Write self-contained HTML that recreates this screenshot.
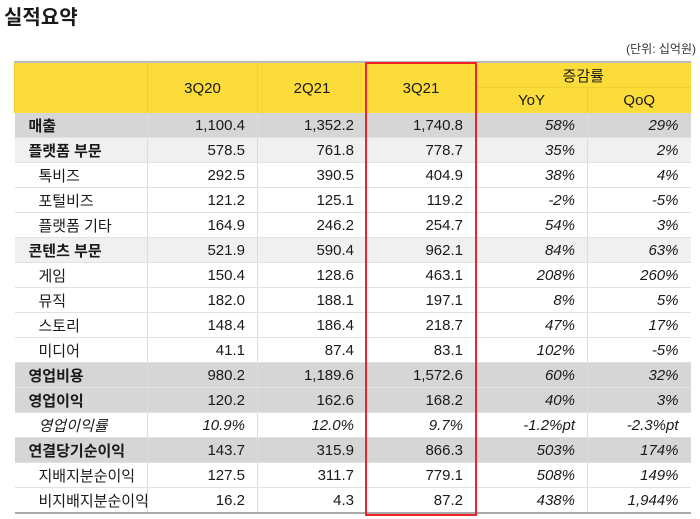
<!DOCTYPE html><html><head><meta charset="utf-8"><style>
body{margin:0;width:700px;height:519px;background:#fff;position:relative;font-family:"Liberation Sans","Noto Sans CJK KR",sans-serif;color:#1a1a1a;overflow:hidden}
.t{position:absolute;left:4px;top:1px;font-size:20px;font-weight:bold}
.u{position:absolute;right:4px;top:40px;font-size:12px;color:#333}
table{position:absolute;left:14px;top:61px;border-collapse:collapse;font-size:15px;table-layout:fixed;width:676px;border-top:2px solid #bbb;border-bottom:2px solid #aaa}
td{height:24px;padding:0;border-bottom:1px solid #e2e2e2;border-left:1px solid #ddd;text-align:right;padding-right:12px;white-space:nowrap}
td:first-child{border-left:none;text-align:left;padding-left:14px}
.h td{background:#fcdc3a;text-align:center;padding:0;border-bottom:none;border-left:1px solid #f3cf2a;font-size:15px}
.h2 td{border-top:1px solid #f0cf30}
.g td{background:#d6d6d6;font-weight:bold}
.l td{background:#f0f0f0;font-weight:bold}
.g td:not(:first-child),.l td:not(:first-child){font-weight:normal}
.s td:first-child{padding-left:24px}
.p td:nth-child(n+5){font-style:italic}
.box{position:absolute;left:365px;top:62px;width:108px;height:450px;border:2px solid #f0232d}
</style></head><body>
<div class="t">실적요약</div><div class="u">(단위: 십억원)</div>
<table>
<colgroup><col style="width:133px"><col style="width:110px"><col style="width:109px"><col style="width:109px"><col style="width:112px"><col style="width:103px"></colgroup>
<tr class="h"><td rowspan="2" style="height:50px"></td><td rowspan="2">3Q20</td><td rowspan="2">2Q21</td><td rowspan="2">3Q21</td><td colspan="2" style="height:24px">증감률</td></tr>
<tr class="h h2"><td style="height:25px">YoY</td><td>QoQ</td></tr>
<tr class="g p"><td>매출</td><td>1,100.4</td><td>1,352.2</td><td>1,740.8</td><td>58%</td><td>29%</td></tr>
<tr class="l p"><td>플랫폼 부문</td><td>578.5</td><td>761.8</td><td>778.7</td><td>35%</td><td>2%</td></tr>
<tr class="s p"><td>톡비즈</td><td>292.5</td><td>390.5</td><td>404.9</td><td>38%</td><td>4%</td></tr>
<tr class="s p"><td>포털비즈</td><td>121.2</td><td>125.1</td><td>119.2</td><td>-2%</td><td>-5%</td></tr>
<tr class="s p"><td>플랫폼 기타</td><td>164.9</td><td>246.2</td><td>254.7</td><td>54%</td><td>3%</td></tr>
<tr class="l p"><td>콘텐츠 부문</td><td>521.9</td><td>590.4</td><td>962.1</td><td>84%</td><td>63%</td></tr>
<tr class="s p"><td>게임</td><td>150.4</td><td>128.6</td><td>463.1</td><td>208%</td><td>260%</td></tr>
<tr class="s p"><td>뮤직</td><td>182.0</td><td>188.1</td><td>197.1</td><td>8%</td><td>5%</td></tr>
<tr class="s p"><td>스토리</td><td>148.4</td><td>186.4</td><td>218.7</td><td>47%</td><td>17%</td></tr>
<tr class="s p"><td>미디어</td><td>41.1</td><td>87.4</td><td>83.1</td><td>102%</td><td>-5%</td></tr>
<tr class="g p"><td>영업비용</td><td>980.2</td><td>1,189.6</td><td>1,572.6</td><td>60%</td><td>32%</td></tr>
<tr class="g p"><td>영업이익</td><td>120.2</td><td>162.6</td><td>168.2</td><td>40%</td><td>3%</td></tr>
<tr class="s" style="font-style:italic"><td>영업이익률</td><td>10.9%</td><td>12.0%</td><td>9.7%</td><td>-1.2%pt</td><td>-2.3%pt</td></tr>
<tr class="g p"><td>연결당기순이익</td><td>143.7</td><td>315.9</td><td>866.3</td><td>503%</td><td>174%</td></tr>
<tr class="s p"><td>지배지분순이익</td><td>127.5</td><td>311.7</td><td>779.1</td><td>508%</td><td>149%</td></tr>
<tr class="s p"><td>비지배지분순이익</td><td>16.2</td><td>4.3</td><td>87.2</td><td>438%</td><td>1,944%</td></tr>
</table>
<div class="box"></div>
</body></html>
